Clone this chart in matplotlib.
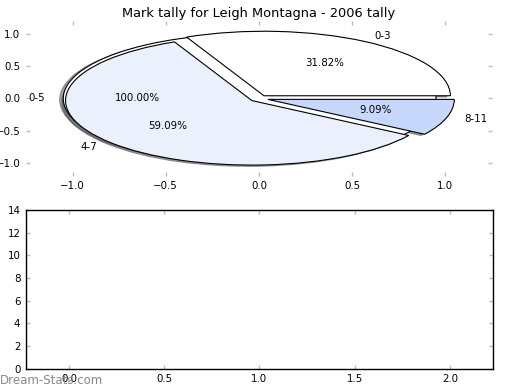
import matplotlib
matplotlib.use('Agg')
import matplotlib.pyplot as plt

# tally data
outer_labels = ['0-5']
outer_values = [22]
inner_labels = ['0-3', '4-7', '8-11']
inner_values = [7, 13, 2]
pie_colors = ['#ffffff', '#eaf0fc', '#c6d9fd']

title = 'Mark tally for Leigh Montagna - 2006 tally'

fs = 7.4
tick_col = '#bbbbbb'
shadow = {'ox': -0.014, 'oy': -0.014}

fig = plt.figure(figsize=(5.2, 3.9), dpi=100)

ax1 = fig.add_axes([0.05, 0.549, 0.896, 0.397])
ax1.pie(outer_values, labels=outer_labels, colors=pie_colors[:1], explode=[0.05],
        autopct='%1.2f%%', shadow=shadow, frame=True,
        wedgeprops={'linewidth': 0.8, 'edgecolor': 'black'},
        textprops={'fontsize': fs})
ax1.pie(inner_values, labels=inner_labels, colors=pie_colors, explode=[0.05, 0.05, 0.05],
        autopct='%1.2f%%', shadow=shadow, frame=True,
        wedgeprops={'linewidth': 0.8, 'edgecolor': 'black'},
        textprops={'fontsize': fs})
ax1.set_aspect('auto')
ax1.set_xlim(-1.25, 1.25)
ax1.set_ylim(-1.2, 1.2)
ax1.set_xticks([-1.0, -0.5, 0.0, 0.5, 1.0])
ax1.set_yticks([-1.0, -0.5, 0.0, 0.5, 1.0])
for s in ax1.spines.values():
    s.set_visible(False)
ax1.set_title(title, fontsize=9.4, pad=3)

ax2 = fig.add_axes([0.05, 0.054, 0.898, 0.408])
ax2.set_xlim(-0.225, 2.225)
ax2.set_ylim(0, 14)
ax2.set_xticks([0.0, 0.5, 1.0, 1.5, 2.0])
ax2.set_yticks(range(0, 15, 2))

for ax in (ax1, ax2):
    ax.tick_params(direction='in', length=3, width=1, color=tick_col,
                   labelsize=fs, top=True, right=True, pad=4)
for s in ax2.spines.values():
    s.set_linewidth(1)

fig.text(0.0, 0.025, 'Dream-Stats.com', color='#888888', fontsize=8.5,
         va='center', ha='left')

fig.savefig('out.png', dpi=100)
